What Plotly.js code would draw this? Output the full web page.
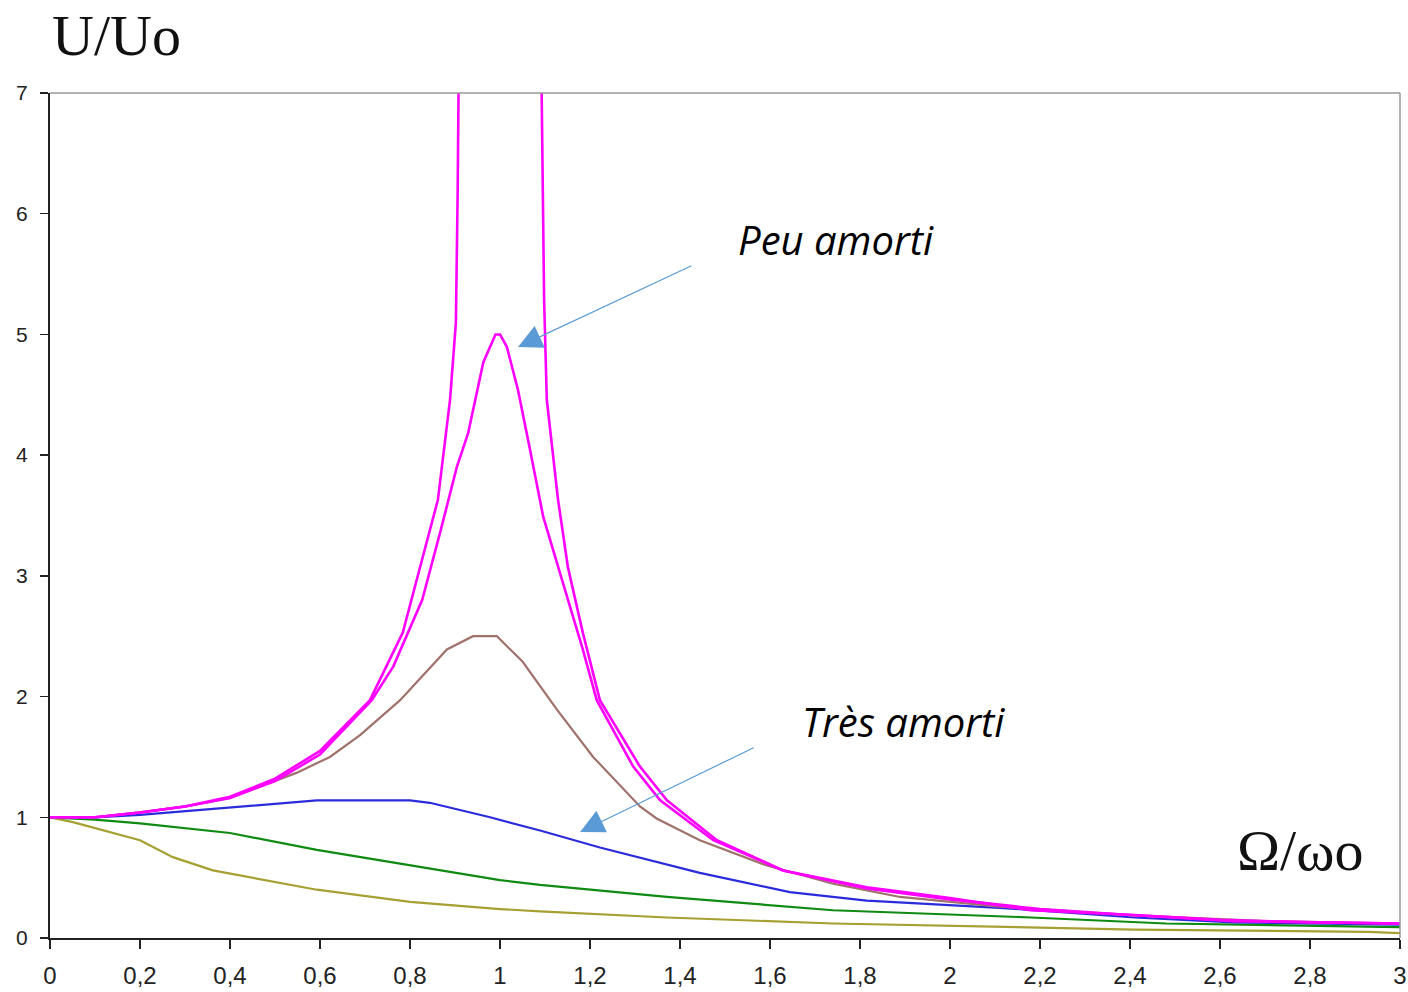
<!DOCTYPE html>
<html>
<head>
<meta charset="utf-8">
<script src="https://cdn.plot.ly/plotly-3.0.1.min.js"></script>
<style>
  html, body { margin: 0; padding: 0; background: #ffffff; }
  #chart { width: 1408px; height: 992px; }
</style>
</head>
<body>
<div id="chart"></div>
<script>
// Undamped (tall magenta) – left and right branches, broken at resonance
const xUndamped = [0, 0.1, 0.2, 0.3, 0.4, 0.5, 0.6, 0.711, 0.784, 0.822, 0.862, 0.889, 0.902, 0.906, 0.909, null,
                   1.091, 1.094, 1.098, 1.104, 1.129, 1.151, 1.184, 1.222, 1.311, 1.371, 1.482, 1.629, 1.815, 2.0, 2.18, 2.41, 2.63, 3.0];
const yUndamped = [1, 1, 1.04, 1.09, 1.17, 1.32, 1.55, 1.97, 2.53, 3.07, 3.63, 4.46, 5.1, 6.2, 7.5, null,
                   7.5, 6.3, 5.29, 4.46, 3.63, 3.07, 2.53, 1.97, 1.42, 1.14, 0.81, 0.56, 0.42, 0.33, 0.23, 0.19, 0.14, 0.12];

// Peak 5 (magenta, "peu amorti")
const xQ5 = [0, 0.1, 0.2, 0.3, 0.4, 0.5, 0.6, 0.715, 0.763, 0.827, 0.867, 0.904, 0.929, 0.963, 0.99, 1.0, 1.015, 1.04, 1.067,
             1.096, 1.14, 1.184, 1.215, 1.296, 1.356, 1.474, 1.629, 1.815, 2.0, 2.2, 2.4, 2.6, 2.8, 3.0];
const yQ5 = [1, 1, 1.04, 1.09, 1.16, 1.30, 1.52, 1.97, 2.25, 2.80, 3.36, 3.9, 4.18, 4.77, 5.0, 5.0, 4.9, 4.54, 4.04,
             3.49, 2.94, 2.39, 1.97, 1.42, 1.14, 0.81, 0.56, 0.41, 0.32, 0.24, 0.19, 0.15, 0.13, 0.12];

// Peak 2.5 (brown)
const xQ25 = [0, 0.1, 0.2, 0.3, 0.4, 0.549, 0.622, 0.689, 0.778, 0.882, 0.94, 0.993, 1.05, 1.111, 1.127, 1.207, 1.311,
              1.348, 1.444, 1.593, 1.74, 1.889, 2.11, 2.4, 2.7, 3.0];
const yQ25 = [1, 1, 1.04, 1.09, 1.16, 1.37, 1.5, 1.68, 1.97, 2.39, 2.5, 2.5, 2.29, 1.97, 1.89, 1.50, 1.09,
              0.99, 0.81, 0.60, 0.45, 0.34, 0.26, 0.19, 0.14, 0.12];

// Blue
const xBlue = [0, 0.1, 0.2, 0.4, 0.593, 0.8, 0.844, 0.978, 1.089, 1.222, 1.444, 1.644, 1.815, 2.11, 2.41, 2.63, 3.0];
const yBlue = [1, 1, 1.02, 1.08, 1.14, 1.14, 1.12, 1.0, 0.89, 0.75, 0.54, 0.38, 0.31, 0.25, 0.17, 0.13, 0.11];

// Green
const xGreen = [0, 0.1, 0.2, 0.4, 0.593, 0.8, 1.0, 1.089, 1.371, 1.74, 1.889, 2.18, 2.48, 2.78, 3.0];
const yGreen = [1, 0.98, 0.95, 0.87, 0.73, 0.60, 0.48, 0.44, 0.34, 0.23, 0.21, 0.17, 0.12, 0.10, 0.09];

// Olive ("très amorti")
const xOlive = [0, 0.051, 0.2, 0.273, 0.362, 0.593, 0.8, 1.0, 1.089, 1.371, 1.74, 2.11, 2.41, 2.93, 3.0];
const yOlive = [1, 0.96, 0.81, 0.67, 0.56, 0.40, 0.30, 0.24, 0.22, 0.17, 0.12, 0.09, 0.07, 0.05, 0.04];

const xTicks = [0, 0.2, 0.4, 0.6, 0.8, 1, 1.2, 1.4, 1.6, 1.8, 2, 2.2, 2.4, 2.6, 2.8, 3];
const xTickLabels = ['0', '0,2', '0,4', '0,6', '0,8', '1', '1,2', '1,4', '1,6', '1,8', '2', '2,2', '2,4', '2,6', '2,8', '3'];
const yTicks = [0, 1, 2, 3, 4, 5, 6, 7];

function line(x, y, color, width) {
  return { x: x, y: y, type: 'scatter', mode: 'lines', connectgaps: false,
           line: { color: color, width: width }, hoverinfo: 'skip', showlegend: false };
}

const traces = [
  line(xOlive, yOlive, '#a6a033', 2.2),
  line(xGreen, yGreen, '#0f8a12', 2.2),
  line(xBlue, yBlue, '#2b2bdc', 2.2),
  line(xQ25, yQ25, '#a0726c', 2.2),
  line(xQ5, yQ5, '#ff00ff', 2.6),
  line(xUndamped, yUndamped, '#ff00ff', 2.6)
];

const arrowColor = '#5b9bd5';
const layout = {
  width: 1408, height: 992,
  margin: { l: 50, r: 8, t: 93, b: 54 },
  paper_bgcolor: '#ffffff', plot_bgcolor: '#ffffff',
  showlegend: false,
  xaxis: {
    range: [0, 3], tickvals: xTicks, ticktext: xTickLabels, showgrid: false, zeroline: false,
    showline: true, linecolor: '#222', linewidth: 2,
    ticks: 'outside', ticklen: 9, tickwidth: 1.5, tickcolor: '#222',
    ticklabelstandoff: 6,
    tickfont: { family: 'Liberation Sans, Arial, sans-serif', size: 24, color: '#222' }
  },
  yaxis: {
    range: [0, 7], tickvals: yTicks, showgrid: false, zeroline: false,
    showline: true, linecolor: '#222', linewidth: 2,
    ticks: 'outside', ticklen: 8, tickwidth: 1.5, tickcolor: '#222',
    ticklabelstandoff: 8,
    tickfont: { family: 'Liberation Sans, Arial, sans-serif', size: 21, color: '#222' }
  },
  shapes: [
    { type: 'line', xref: 'paper', yref: 'paper', x0: 0, x1: 1, y0: 1, y1: 1, line: { color: '#999', width: 1.5 } },
    { type: 'line', xref: 'paper', yref: 'paper', x0: 1, x1: 1, y0: 0, y1: 1, line: { color: '#999', width: 1.5 } }
  ],
  annotations: [
    { text: 'U/Uo', xref: 'paper', yref: 'paper', x: 0, y: 1, xshift: 0, yshift: 58,
      xanchor: 'left', yanchor: 'middle', showarrow: false,
      font: { family: 'Liberation Serif, Times New Roman, serif', size: 58, color: '#111' } },
    { text: 'Ω/ωo', xref: 'paper', yref: 'paper', x: 1, y: 0, xshift: -100, yshift: 88,
      xanchor: 'center', yanchor: 'middle', showarrow: false,
      font: { family: 'Liberation Serif, Times New Roman, serif', size: 58, color: '#111' } },
    { text: '<i>Peu amorti</i>', xref: 'x', yref: 'y', x: (836 - 50) / 450, y: (938 - 240) / 120.71,
      xanchor: 'center', yanchor: 'middle', showarrow: false,
      font: { family: 'Open Sans, Noto Sans, sans-serif', size: 40, color: '#000' } },
    { text: '<i>Très amorti</i>', xref: 'x', yref: 'y', x: (903 - 50) / 450, y: (938 - 722) / 120.71,
      xanchor: 'center', yanchor: 'middle', showarrow: false,
      font: { family: 'Open Sans, Noto Sans, sans-serif', size: 40, color: '#000' } },
    { text: '', xref: 'x', yref: 'y', x: 1.04, y: 4.896, ax: 175, ay: -82,
      showarrow: true, arrowhead: 2, arrowsize: 4, arrowwidth: 1.2, arrowcolor: arrowColor, standoff: 0 },
    { text: '', xref: 'x', yref: 'y', x: 1.178, y: 0.878, ax: 175, ay: -85,
      showarrow: true, arrowhead: 2, arrowsize: 4, arrowwidth: 1.2, arrowcolor: arrowColor, standoff: 0 }
  ]
};

Plotly.newPlot('chart', traces, layout, { staticPlot: true, displayModeBar: false });
</script>
</body>
</html>
